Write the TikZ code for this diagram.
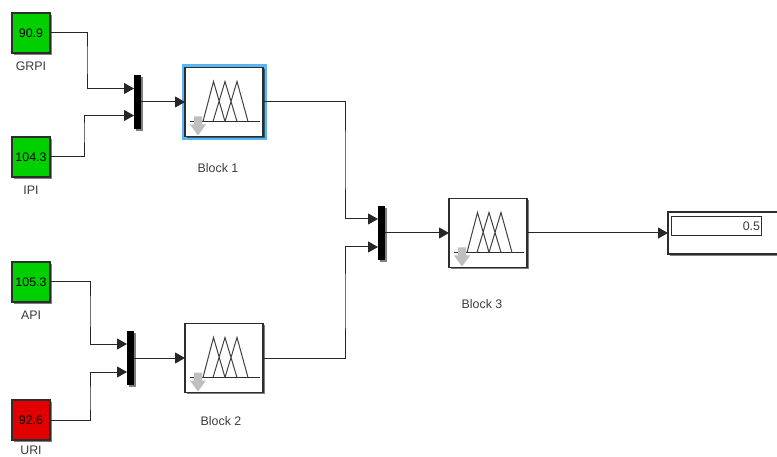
\documentclass[tikz,border=0pt]{standalone}
\usepackage{fontspec}
\setmainfont{Liberation Sans}
\usetikzlibrary{arrows.meta,shadows,calc}
\definecolor{srcgreen}{RGB}{0,208,0}
\definecolor{srcred}{RGB}{226,0,0}
\definecolor{halo}{RGB}{92,180,240}
\definecolor{edge}{RGB}{45,45,45}
\definecolor{lab}{RGB}{60,60,60}
\tikzset{
  softshadow/.style={general shadow={shadow xshift=1.8pt,shadow yshift=-1.8pt,fill=black,opacity=.5}},
  source/.style={draw=edge,line width=1.2pt,minimum width=38pt,minimum height=40pt,inner sep=0pt,outer sep=0pt,
     font=\fontsize{12.4pt}{14pt}\selectfont,text=black,softshadow},
  greensrc/.style={source,fill=srcgreen},
  redsrc/.style={source,fill=srcred},
  labeltext/.style={inner sep=0pt,font=\fontsize{12.4pt}{14pt}\selectfont,text=lab},
  muxbar/.style={fill=black,draw=none,minimum width=7pt,minimum height=54pt,inner sep=0pt,outer sep=0pt,softshadow},
  fisblock/.style={draw=edge,fill=white,line width=1.2pt,minimum width=78pt,minimum height=69pt,inner sep=0pt,outer sep=0pt,softshadow},
  selhalo/.style={draw=halo,line width=3.5pt,minimum width=81.5pt,minimum height=73pt,inner sep=0pt,outer sep=0pt},
  dispbox/.style={draw=edge,fill=white,line width=1.2pt,minimum width=130pt,minimum height=42pt,inner sep=0pt,outer sep=0pt,softshadow},
  dispfield/.style={draw=edge,fill=white,line width=1pt,minimum width=90pt,minimum height=19pt,inner sep=0pt,outer sep=0pt,
     font=\fontsize{12.4pt}{14pt}\selectfont,text=lab,align=right,text width=88pt},
  wire/.style={draw=black!85,line width=1pt,-{Triangle[length=10pt,width=11pt]}},
  fuzzy/.pic={
    \draw[edge,line width=1pt] (5,54) -- (75,54);
    \draw[black!75,line width=1pt,line join=miter]
       (18,54) -- (28.5,14) -- (40,54)
       (28,54) -- (40,14) -- (52,54)
       (40,54) -- (52,14) -- (63,54);
    \fill[black!25] (9,49) -- (17,49) -- (17,57) -- (21,57) -- (13,68) -- (5,57) -- (9,57) -- cycle;
  }
}
\begin{document}
\begin{tikzpicture}[x=1pt,y=-1pt]
\useasboundingbox (0,0) rectangle (777,457);
\clip (0,0) rectangle (777,457);
\fill[white] (0,0) rectangle (777,457);
% sources
\node[greensrc] (grpi) at (31,33) {90.9};
\node[greensrc] (ipi)  at (31,157) {104.3};
\node[greensrc] (api)  at (31,282) {105.3};
\node[redsrc]   (uri)  at (31,420) {92.6};
\node[labeltext] (lgrpi) at (31,66) {GRPI};
\node[labeltext] (lipi)  at (31,190) {IPI};
\node[labeltext] (lapi)  at (31,315) {API};
\node[labeltext] (luri)  at (31,450.5) {URI};
% muxes
\node[muxbar] (m1) at (137.5,102) {};
\node[muxbar] (m2) at (130.5,358) {};
\node[muxbar] (m3) at (381.5,233) {};
% blocks
\node[selhalo] (h1) at (224,102) {};
\node[fisblock] (b1) at (224,102) {};
\node[fisblock] (b2) at (224,358) {};
\node[fisblock] (b3) at (488,233) {};
\pic at (b1.north west) {fuzzy};
\pic at (b2.north west) {fuzzy};
\pic at (b3.north west) {fuzzy};
\node[labeltext] (l1) at (218,168) {Block 1};
\node[labeltext] (l2) at (221,421) {Block 2};
\node[labeltext] (l3) at (482,304) {Block 3};
% display
\node[dispbox] (d) at (733,233) {};
\node[dispfield] (df) at (716,226.5) {0.5};
% routing points
\coordinate (j1) at (87,60);
\coordinate (j2) at (84,130);
\coordinate (j3) at (90,310);
\coordinate (j4) at (90,400);
\coordinate (j5) at (345,160);
\coordinate (j6) at (345,300);
% connectors
\draw[wire] (grpi.east) -| (j1) |- ([yshift=13.5pt]m1.west);
\draw[wire] (ipi.east) -| (j2) |- ([yshift=-13.5pt]m1.west);
\draw[wire] (api.east) -| (j3) |- ([yshift=14pt]m2.west);
\draw[wire] (uri.east) -| (j4) |- ([yshift=-14pt]m2.west);
\draw[wire] (m1.east) -- (b1.west);
\draw[wire] (m2.east) -- (b2.west);
\draw[wire] (b1.east) -| (j5) |- ([yshift=14pt]m3.west);
\draw[wire] (b2.east) -| (j6) |- ([yshift=-14pt]m3.west);
\draw[wire] (m3.east) -- (b3.west);
\draw[wire] (b3.east) -- (d.west);
\end{tikzpicture}
\end{document}
